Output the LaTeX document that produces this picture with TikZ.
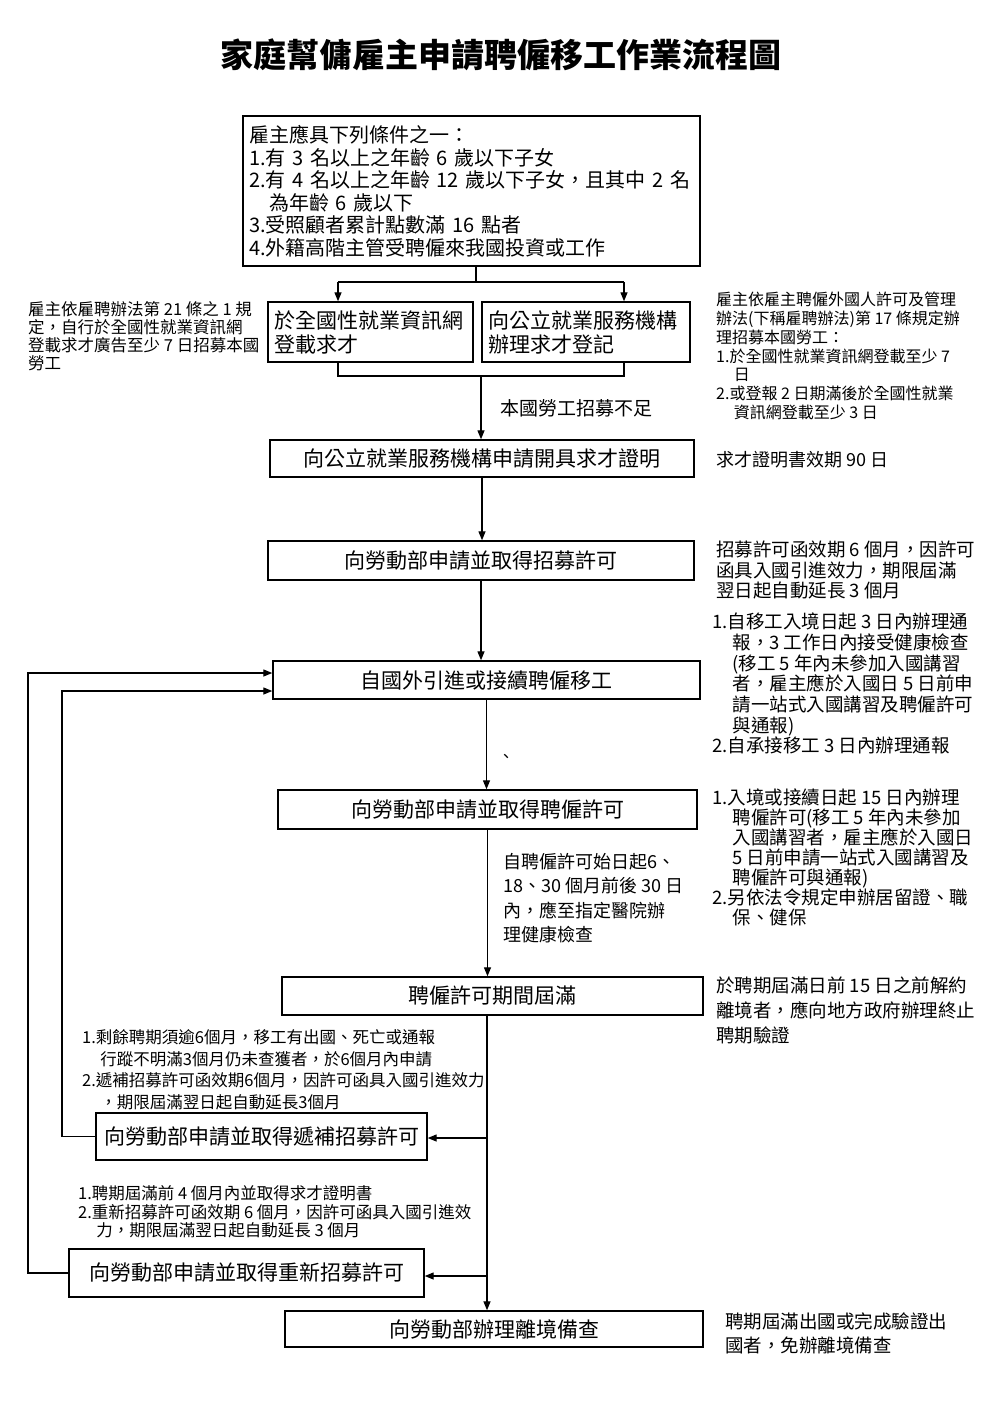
\documentclass[tikz,border=0pt]{standalone}
\usepackage{fontspec}
\setmainfont{Noto Sans CJK TC}
\usetikzlibrary{arrows.meta}
\newcommand{\fs}[2]{\fontsize{#1}{#2}\selectfont\lineskiplimit=-20pt\lineskip=0pt}
\tikzset{
  box/.style={draw, line width=1.4pt, inner sep=0pt, font=\fs{21}{24}},
  conn/.style={line width=1.3pt},
  arr/.style={conn, -{Triangle[length=9pt,width=7pt]}},
  note/.style={inner sep=0pt, align=left, anchor=north west},
}
\begin{document}
\begin{tikzpicture}[x=1pt,y=-1pt]
\useasboundingbox[fill=white] (0,0) rectangle (1003,1420);
\node[font=\fs{33}{36}\bfseries] (title) at (501,55) {家庭幫傭雇主申請聘僱移工作業流程圖};

% boxes
\node[box, font=\fs{20}{22.5}, minimum width=457pt, minimum height=150pt, text width=445pt, align=left] (cond) at (471.5,191) {雇主應具下列條件之一：\\1.有 3 名以上之年齡 6 歲以下子女\\2.有 4 名以上之年齡 12 歲以下子女，且其中 2 名\\\hspace*{1em}為年齡 6 歲以下\\3.受照顧者累計點數滿 16 點者\\4.外籍高階主管受聘僱來我國投資或工作};
\node[box, minimum width=205pt, minimum height=60pt, text width=193pt, align=left] (web) at (370.5,332) {於全國性就業資訊網\\登載求才};
\node[box, minimum width=208pt, minimum height=60pt, text width=196pt, align=left] (reg) at (586,332) {向公立就業服務機構\\辦理求才登記};
\node[box, minimum width=424pt, minimum height=37pt] (cert) at (482,458.5) {向公立就業服務機構申請開具求才證明};
\node[box, minimum width=426pt, minimum height=39pt] (recruit) at (481,560.5) {向勞動部申請並取得招募許可};
\node[box, minimum width=427pt, minimum height=38pt] (hire) at (486.5,680) {自國外引進或接續聘僱移工};
\node[box, minimum width=419pt, minimum height=39pt] (permit) at (487.5,809.5) {向勞動部申請並取得聘僱許可};
\node[box, minimum width=421pt, minimum height=38pt] (expiry) at (492.5,996) {聘僱許可期間屆滿};
\node[box, minimum width=331pt, minimum height=47pt] (refill) at (261.5,1136.5) {向勞動部申請並取得遞補招募許可};
\node[box, minimum width=355pt, minimum height=48pt] (rerecruit) at (246.5,1273) {向勞動部申請並取得重新招募許可};
\node[box, minimum width=418pt, minimum height=36pt] (exit) at (494,1329) {向勞動部辦理離境備查};

% connectors
\coordinate (sp) at (476,282);
\coordinate (sL) at (338,282);
\coordinate (sR) at (624,282);
\draw[conn] (sp |- cond.south) -- (sp);
\draw[conn] (sL) -- (sR);
\draw[arr] (sL) -- (sL |- web.north);
\draw[arr] (sR) -- (sR |- reg.north);
\coordinate (bL) at (338,376);
\coordinate (bR) at (624,376);
\coordinate (bM) at (481,376);
\draw[conn] (bL |- web.south) -- (bL) -- (bR) -- (bR |- reg.south);
\draw[arr] (bM) -- (bM |- cert.north);
\draw[arr] (cert.south) -- (cert.south |- recruit.north);
\draw[arr] (recruit.south) -- (recruit.south |- hire.north);
\draw[arr] (hire.south) -- (hire.south |- permit.north);
\draw[arr] (permit.south) -- (permit.south |- expiry.north);
\coordinate (m1) at (487,1138);
\coordinate (m2) at (487,1276);
\draw[arr] (expiry.south -| m1) -- (m1 |- exit.north);
\draw[arr] (m1) -- (m1 -| refill.east);
\draw[arr] (m2) -- (m2 -| rerecruit.east);
\coordinate (inL) at (62,691);
\coordinate (outL) at (28,673);
\draw[arr] (refill.west) -| (inL) -- (inL -| hire.west);
\draw[arr] (rerecruit.west) -| (outL) -- (outL -| hire.west);

% notes
\node[inner sep=0pt, anchor=west, font=\fs{19}{22}] (short) at (500,408) {本國勞工招募不足};
\node[note, font=\fs{16.5}{17.7}] (lnote) at (28,301.8) {雇主依雇聘辦法第 21 條之 1 規\\定，自行於全國性就業資訊網\\登載求才廣告至少 7 日招募本國\\勞工};
\node[note, font=\fs{16}{18.8}] (rnote) at (716,292) {雇主依雇主聘僱外國人許可及管理\\辦法(下稱雇聘辦法)第 17 條規定辦\\理招募本國勞工：\\1.於全國性就業資訊網登載至少 7\\\hspace*{1.1em}日\\2.或登報 2 日期滿後於全國性就業\\\hspace*{1.1em}資訊網登載至少 3 日};
\node[inner sep=0pt, anchor=west, font=\fs{18}{22}] (certnote) at (716,460) {求才證明書效期 90 日};
\node[note, font=\fs{18.5}{20.5}] (recnote) at (716,540.75) {招募許可函效期 6 個月，因許可\\函具入國引進效力，期限屆滿\\翌日起自動延長 3 個月};
\node[note, font=\fs{18.5}{20.7}] (hirenote) at (712,612.75) {1.自移工入境日起 3 日內辦理通\\\hspace*{1.1em}報，3 工作日內接受健康檢查\\\hspace*{1.1em}(移工 5 年內未參加入國講習\\\hspace*{1.1em}者，雇主應於入國日 5 日前申\\\hspace*{1.1em}請一站式入國講習及聘僱許可\\\hspace*{1.1em}與通報)\\2.自承接移工 3 日內辦理通報};
\node[inner sep=0pt, font=\fs{16}{18}] (mark) at (506,758) {、};
\node[note, font=\fs{18.5}{20}] (permnote) at (712,788.75) {1.入境或接續日起 15 日內辦理\\\hspace*{1.1em}聘僱許可(移工 5 年內未參加\\\hspace*{1.1em}入國講習者，雇主應於入國日\\\hspace*{1.1em}5 日前申請一站式入國講習及\\\hspace*{1.1em}聘僱許可與通報)\\2.另依法令規定申辦居留證、職\\\hspace*{1.1em}保、健保};
\node[note, font=\fs{18}{24.5}] (midnote) at (503,853) {自聘僱許可始日起6、\\18、30 個月前後 30 日\\內，應至指定醫院辦\\理健康檢查};
\node[note, font=\fs{18.5}{25}] (expnote) at (716,976.75) {於聘期屆滿日前 15 日之前解約\\離境者，應向地方政府辦理終止\\聘期驗證};
\node[note, font=\fs{16.5}{21.5}] (refnote) at (82,1029.5) {1.剩餘聘期須逾6個月，移工有出國、死亡或通報\\\hspace*{1.1em}行蹤不明滿3個月仍未查獲者，於6個月內申請\\2.遞補招募許可函效期6個月，因許可函具入國引進效力\\\hspace*{1.1em}，期限屆滿翌日起自動延長3個月};
\node[note, font=\fs{16.5}{18.5}] (rernote) at (78,1185.5) {1.聘期屆滿前 4 個月內並取得求才證明書\\2.重新招募許可函效期 6 個月，因許可函具入國引進效\\\hspace*{1.1em}力，期限屆滿翌日起自動延長 3 個月};
\node[note, font=\fs{18.5}{24}] (exitnote) at (725,1312.75) {聘期屆滿出國或完成驗證出\\國者，免辦離境備查};
\end{tikzpicture}
\end{document}
